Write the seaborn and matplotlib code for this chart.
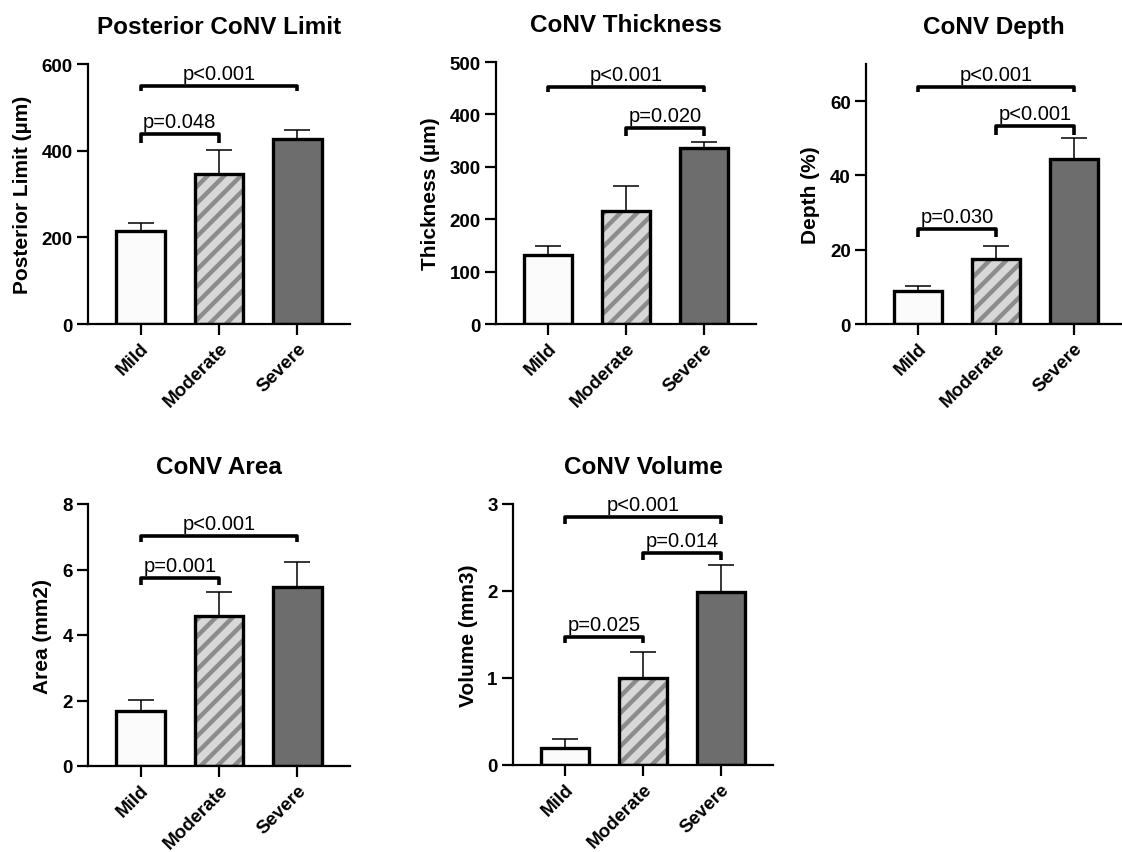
# %%
import matplotlib as mpl
import matplotlib.pyplot as plt
import seaborn as sns

sns.set_style("ticks")
plt.rcParams["font.family"] = ["Liberation Sans", "DejaVu Sans"]
plt.rcParams["hatch.linewidth"] = 3.2
for key in ["text.color", "axes.labelcolor", "xtick.color", "ytick.color", "axes.edgecolor"]:
    plt.rcParams[key] = "black"

# %%
# datos (media y error superior)
groups = ["Mild", "Moderate", "Severe"]

limit_mean = [215, 347, 427]
limit_err = [18, 55, 21]
limit_brackets = [(0, 2, 549, 537, "p<0.001"), (0, 1, 439, 418, "p=0.048")]

thick_mean = [132, 215, 336]
thick_err = [17, 48, 11]
thick_brackets = [(0, 2, 453, 442, "p<0.001"), (1, 2, 375, 358, "p=0.020")]

depth_mean = [9.0, 17.5, 44.4]
depth_err = [1.3, 3.4, 5.6]
depth_brackets = [(0, 2, 63.9, 62.4, "p<0.001"), (1, 2, 53.3, 51.0, "p<0.001"),
                  (0, 1, 25.6, 23.3, "p=0.030")]

area_mean = [1.69, 4.57, 5.48]
area_err = [0.33, 0.73, 0.74]
area_brackets = [(0, 2, 7.03, 6.83, "p<0.001"), (0, 1, 5.74, 5.52, "p=0.001")]

volume_mean = [0.19, 1.0, 1.99]
volume_err = [0.11, 0.30, 0.31]
volume_brackets = [(0, 2, 2.85, 2.77, "p<0.001"), (1, 2, 2.44, 2.36, "p=0.014"),
                   (0, 1, 1.47, 1.40, "p=0.025")]

colors = ["#fbfbfb", "#d8d8d8", "#6d6d6d"]
HATCH = "#8c8c8c"

# %%
W, H = 1122, 853
fig = plt.figure(figsize=(W / 100, H / 100), dpi=100)


def axes_px(left, right, top, bottom):
    return fig.add_axes([left / W, 1 - bottom / H, (right - left) / W, (bottom - top) / H])


panels = [
    (axes_px(88, 350, 65, 325), "Posterior CoNV Limit", "Posterior Limit (µm)",
     limit_mean, limit_err, limit_brackets, [0, 200, 400, 600], 600, 2.67),
    (axes_px(496, 756, 63, 325), "CoNV Thickness", "Thickness (µm)",
     thick_mean, thick_err, thick_brackets, [0, 100, 200, 300, 400, 500], 500, 2.67),
    (axes_px(866, 1122, 65, 325), "CoNV Depth", "Depth (%)",
     depth_mean, depth_err, depth_brackets, [0, 20, 40, 60], 70, 2.62),
    (axes_px(88, 350, 505, 767), "CoNV Area", "Area (mm2)",
     area_mean, area_err, area_brackets, [0, 2, 4, 6, 8], 8, 2.67),
    (axes_px(513, 773, 505, 766), "CoNV Volume", "Volume (mm3)",
     volume_mean, volume_err, volume_brackets, [0, 1, 2, 3], 3, 2.67),
]

for ax, title, ylabel, mean, err, brackets, yticks, ytop, xright in panels:
    sns.barplot(x=groups, y=mean, hue=groups, palette=colors, legend=False,
                width=0.62, errorbar=None, edgecolor="black", linewidth=2.4,
                saturation=1, ax=ax)

    # barra moderada con rayas diagonales
    hatched = ax.containers[1].patches[0]
    hatched.set_hatch("//")
    if hasattr(hatched, "set_hatchcolor"):
        hatched.set_hatchcolor(HATCH)
    else:
        hatched._hatch_color = mpl.colors.to_rgba(HATCH)

    # solo error superior
    ax.errorbar(range(len(groups)), mean, yerr=[[0] * len(err), err], fmt="none",
                ecolor="black", elinewidth=1.1, capsize=9.5, capthick=1.1, zorder=0.5)

    # corchetes de significancia
    for i, j, ytop_b, yend, label in brackets:
        ax.plot([i, i, j, j], [yend, ytop_b, ytop_b, yend], color="black", lw=2.6,
                solid_capstyle="butt", clip_on=False)
        ax.annotate(label, ((i + j) / 2, ytop_b), xytext=(0, 2),
                    textcoords="offset points", ha="center", va="bottom", fontsize=14.5)

    ax.set_xlim(-0.67, xright)
    ax.set_ylim(0, ytop)
    ax.set_yticks(yticks)
    ax.set_title(title, fontsize=17.5, fontweight="bold", pad=22)
    ax.set_ylabel(ylabel, fontsize=15, fontweight="bold", labelpad=7)
    ax.set_xlabel("")
    sns.despine(ax=ax)
    for side in ["left", "bottom"]:
        ax.spines[side].set_linewidth(1.6)
    ax.tick_params(axis="both", width=1.6, length=8, labelsize=13.5, pad=3)
    for lab in ax.get_yticklabels():
        lab.set_fontweight("bold")
    for lab in ax.get_xticklabels():
        lab.set_fontweight("bold")
        lab.set_rotation(45)
        lab.set_ha("right")
        lab.set_rotation_mode("anchor")

plt.savefig("out.png", dpi=100)
